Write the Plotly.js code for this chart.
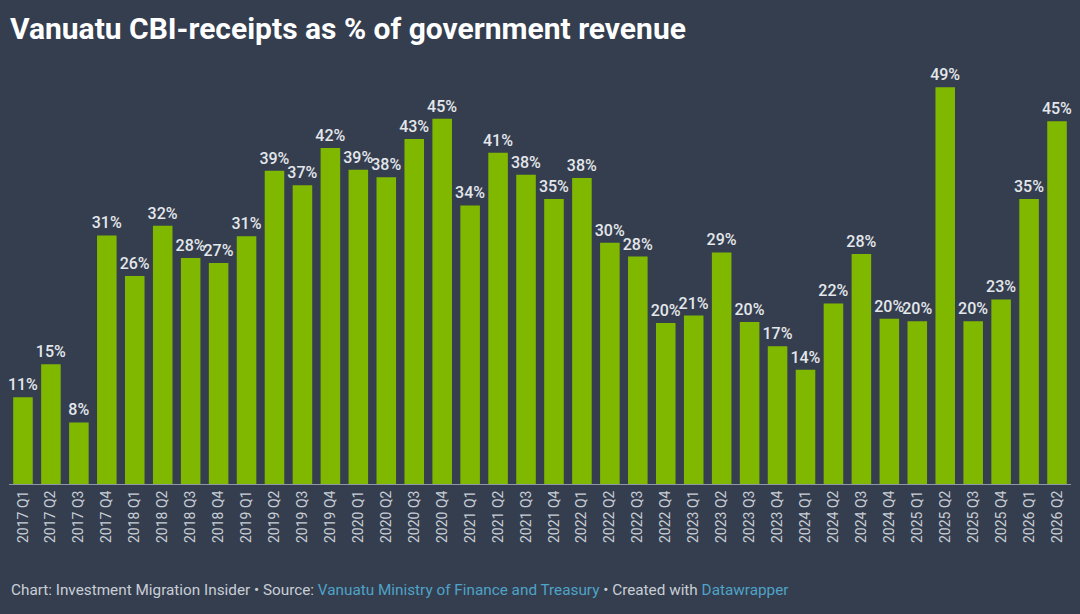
<!DOCTYPE html>
<html>
<head>
<meta charset="utf-8">
<script src="https://cdn.plot.ly/plotly-3.0.1.min.js"></script>
<style>
  html, body { margin: 0; padding: 0; background: #343e4f; }
  #chart { width: 1080px; height: 614px; }
</style>
</head>
<body>
<div id="chart"></div>
<script>
// quarters and CBI receipts as % of government revenue
var quarters = [
  '2017 Q1', '2017 Q2', '2017 Q3', '2017 Q4',
  '2018 Q1', '2018 Q2', '2018 Q3', '2018 Q4',
  '2019 Q1', '2019 Q2', '2019 Q3', '2019 Q4',
  '2020 Q1', '2020 Q2', '2020 Q3', '2020 Q4',
  '2021 Q1', '2021 Q2', '2021 Q3', '2021 Q4',
  '2022 Q1', '2022 Q2', '2022 Q3', '2022 Q4',
  '2023 Q1', '2023 Q2', '2023 Q3', '2023 Q4',
  '2024 Q1', '2024 Q2', '2024 Q3', '2024 Q4',
  '2025 Q1', '2025 Q2', '2025 Q3', '2025 Q4',
  '2026 Q1', '2026 Q2'
];
var share = [
  10.7, 14.8, 7.6, 30.7,
  25.7, 31.9, 27.9, 27.3,
  30.6, 38.7, 36.9, 41.5,
  38.8, 37.9, 42.6, 45.1,
  34.4, 40.9, 38.2, 35.2,
  37.8, 29.8, 28.1, 19.9,
  20.8, 28.6, 20.0, 17.0,
  14.1, 22.3, 28.4, 20.4,
  20.1, 49.0, 20.1, 22.8,
  35.2, 44.8
];

var title = 'Vanuatu CBI-receipts as % of government revenue';
var footer = 'Chart: Investment Migration Insider • Source: ' +
  '<span style="color:#4fa3c7">Vanuatu Ministry of Finance and Treasury</span>' +
  ' • Created with <span style="color:#4fa3c7">Datawrapper</span>';

var bars = {
  type: 'bar',
  x: quarters,
  y: share,
  marker: { color: '#80b800' },
  texttemplate: '%{y:.0f}%',
  textposition: 'outside',
  constraintext: 'none',
  cliponaxis: false,
  textfont: { family: 'Roboto, sans-serif', size: 16, weight: 500, color: '#e4e7eb' },
  hoverinfo: 'x+y'
};

var layout = {
  width: 1080,
  height: 614,
  paper_bgcolor: '#343e4f',
  plot_bgcolor: '#343e4f',
  margin: { l: 9, r: 9, t: 80, b: 130 },
  bargap: 0.3,
  showlegend: false,
  font: { family: 'Roboto, sans-serif', color: '#c9ced6' },
  title: {
    text: '<b>' + title + '</b>',
    x: 10 / 1080, xanchor: 'left', xref: 'container',
    y: 0.953, yanchor: 'middle', yref: 'container',
    font: { family: 'Roboto, sans-serif', size: 30, color: '#ffffff' }
  },
  xaxis: {
    type: 'category',
    tickangle: -90,
    tickfont: { family: 'Roboto, sans-serif', size: 14, color: '#c9ced6' },
    showline: true,
    linecolor: '#8e97a3',
    linewidth: 1,
    ticks: '',
    showgrid: false,
    fixedrange: true
  },
  yaxis: {
    range: [0, 49.9],
    visible: false,
    showgrid: false,
    zeroline: false,
    fixedrange: true
  },
  annotations: [{
    text: footer,
    xref: 'paper', yref: 'paper',
    x: 0.0, xanchor: 'left',
    y: -0.262, yanchor: 'middle',
    showarrow: false,
    align: 'left',
    font: { family: 'Roboto, sans-serif', size: 15.3, color: '#c9ced6' }
  }]
};

Plotly.newPlot('chart', [bars], layout, { displayModeBar: false, staticPlot: true });
</script>
</body>
</html>
